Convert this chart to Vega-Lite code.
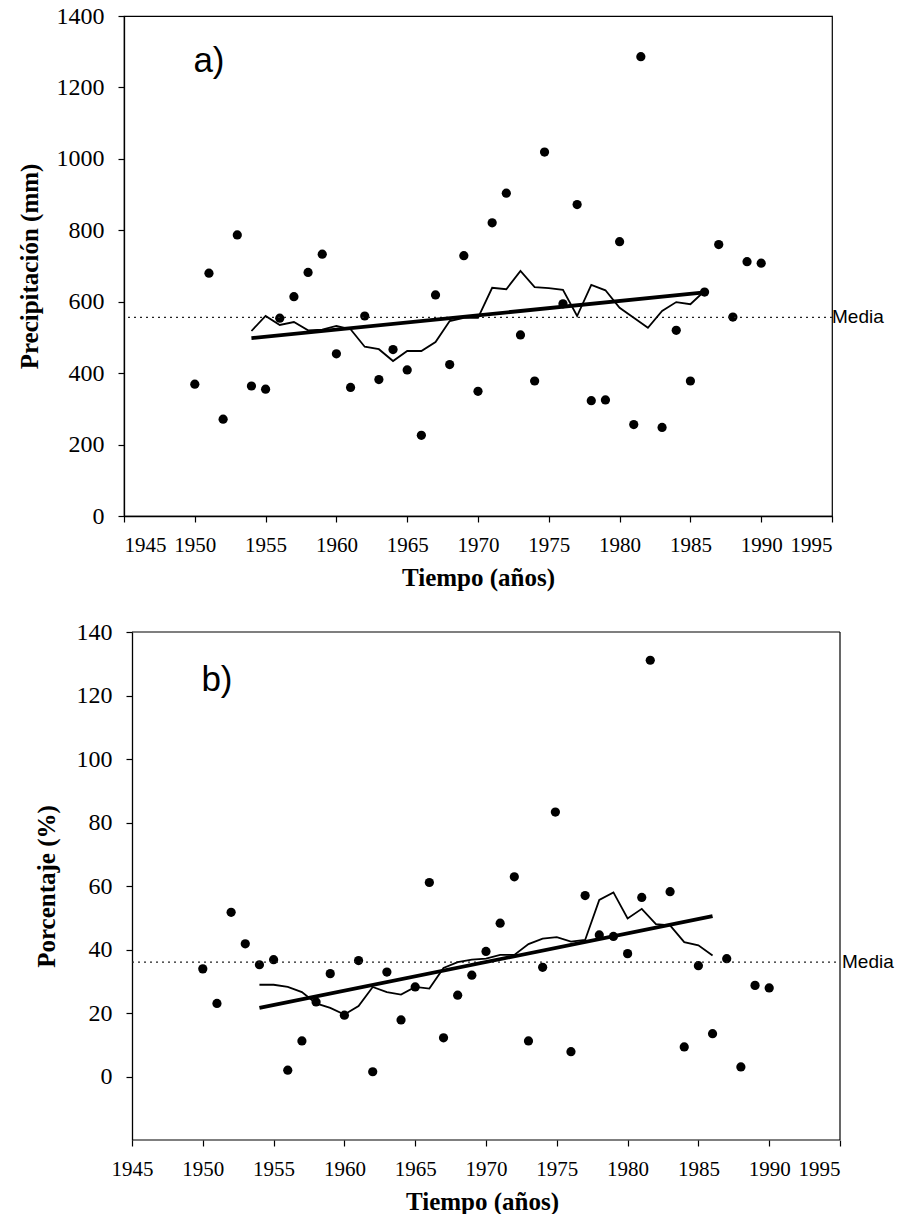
{
  "$schema": "https://vega.github.io/schema/vega-lite/v6.json",
  "background": "white",
  "padding": {"left": 16, "top": 3, "right": 5, "bottom": 0},
  "spacing": 29,
  "config": {
    "view": {"stroke": "black", "strokeWidth": 1.2},
    "axis": {
      "grid": false,
      "domainColor": "black",
      "domainWidth": 1.3,
      "tickColor": "black",
      "tickWidth": 1.2,
      "tickSize": 6,
      "labelColor": "black",
      "titleColor": "black",
      "labelFont": "Liberation Serif",
      "titleFont": "Liberation Serif",
      "titleFontWeight": "bold",
      "titleFontSize": 25
    },
    "axisX": {"labelFont": "Liberation Serif", "labelFontSize": 21, "labelPadding": 12, "titlePadding": 10},
    "axisY": {"labelFont": "Liberation Serif", "labelFontSize": 24, "labelPadding": 14}
  },
  "datasets": {
    "precip": [
      {"year": 1950, "value": 369}, {"year": 1951, "value": 680}, {"year": 1952, "value": 271},
      {"year": 1953, "value": 787}, {"year": 1954, "value": 364}, {"year": 1955, "value": 355},
      {"year": 1956, "value": 554}, {"year": 1957, "value": 614}, {"year": 1958, "value": 682},
      {"year": 1959, "value": 733}, {"year": 1960, "value": 454}, {"year": 1961, "value": 360},
      {"year": 1962, "value": 560}, {"year": 1963, "value": 382}, {"year": 1964, "value": 466},
      {"year": 1965, "value": 409}, {"year": 1966, "value": 226}, {"year": 1967, "value": 619},
      {"year": 1968, "value": 424}, {"year": 1969, "value": 729}, {"year": 1970, "value": 349},
      {"year": 1971, "value": 821}, {"year": 1972, "value": 904}, {"year": 1973, "value": 507},
      {"year": 1974, "value": 378}, {"year": 1974.7, "value": 1019}, {"year": 1976, "value": 594},
      {"year": 1977, "value": 872}, {"year": 1978, "value": 323}, {"year": 1979, "value": 325},
      {"year": 1980, "value": 768}, {"year": 1981, "value": 256}, {"year": 1981.5, "value": 1286},
      {"year": 1983, "value": 248}, {"year": 1984, "value": 520}, {"year": 1985, "value": 378},
      {"year": 1986, "value": 627}, {"year": 1987, "value": 760}, {"year": 1988, "value": 557},
      {"year": 1989, "value": 712}, {"year": 1990, "value": 708}
    ],
    "precipMA": [
      {"year": 1954, "value": 518}, {"year": 1955, "value": 560}, {"year": 1956, "value": 535},
      {"year": 1957, "value": 543}, {"year": 1958, "value": 520}, {"year": 1959, "value": 522},
      {"year": 1960, "value": 532}, {"year": 1961, "value": 523}, {"year": 1962, "value": 474},
      {"year": 1963, "value": 467}, {"year": 1964, "value": 434}, {"year": 1965, "value": 462},
      {"year": 1966, "value": 462}, {"year": 1967, "value": 487}, {"year": 1968, "value": 546},
      {"year": 1969, "value": 555}, {"year": 1970, "value": 555}, {"year": 1971, "value": 639},
      {"year": 1972, "value": 635}, {"year": 1973, "value": 686}, {"year": 1974, "value": 641},
      {"year": 1975, "value": 638}, {"year": 1976, "value": 633}, {"year": 1977, "value": 560},
      {"year": 1978, "value": 647}, {"year": 1979, "value": 632}, {"year": 1980, "value": 583},
      {"year": 1981, "value": 555}, {"year": 1982, "value": 527}, {"year": 1983, "value": 574},
      {"year": 1984, "value": 599}, {"year": 1985, "value": 593}, {"year": 1986, "value": 630}
    ],
    "precipTrend": [
      {"year": 1954, "value": 498}, {"year": 1986, "value": 626}
    ],
    "precipMedia": [{"value": 556, "label": "Media"}],
    "tagA": [{"tag": "a)"}],
    "pct": [
      {"year": 1950, "value": 33.9}, {"year": 1951, "value": 23.0}, {"year": 1952, "value": 51.7},
      {"year": 1953, "value": 41.8}, {"year": 1954, "value": 35.2}, {"year": 1955, "value": 36.8},
      {"year": 1956, "value": 2.0}, {"year": 1957, "value": 11.2}, {"year": 1958, "value": 23.5},
      {"year": 1959, "value": 32.4}, {"year": 1960, "value": 19.3}, {"year": 1961, "value": 36.5},
      {"year": 1962, "value": 1.5}, {"year": 1963, "value": 32.9}, {"year": 1964, "value": 17.8},
      {"year": 1965, "value": 28.2}, {"year": 1966, "value": 61.1}, {"year": 1967, "value": 12.2},
      {"year": 1968, "value": 25.6}, {"year": 1969, "value": 31.9}, {"year": 1970, "value": 39.4},
      {"year": 1971, "value": 48.3}, {"year": 1972, "value": 62.9}, {"year": 1973, "value": 11.2},
      {"year": 1974, "value": 34.4}, {"year": 1974.9, "value": 83.3}, {"year": 1976, "value": 7.8},
      {"year": 1977, "value": 57.0}, {"year": 1978, "value": 44.6}, {"year": 1979, "value": 44.1},
      {"year": 1980, "value": 38.7}, {"year": 1981, "value": 56.4}, {"year": 1981.6, "value": 131.1},
      {"year": 1983, "value": 58.2}, {"year": 1984, "value": 9.3}, {"year": 1985, "value": 34.9},
      {"year": 1986, "value": 13.5}, {"year": 1987, "value": 37.1}, {"year": 1988, "value": 3.0},
      {"year": 1989, "value": 28.7}, {"year": 1990, "value": 27.9}
    ],
    "pctMA": [
      {"year": 1954, "value": 28.9}, {"year": 1955, "value": 28.9}, {"year": 1956, "value": 28.2},
      {"year": 1957, "value": 26.6}, {"year": 1958, "value": 23.0}, {"year": 1959, "value": 21.6},
      {"year": 1960, "value": 19.5}, {"year": 1961, "value": 22.2}, {"year": 1962, "value": 28.2},
      {"year": 1963, "value": 26.6}, {"year": 1964, "value": 25.8}, {"year": 1965, "value": 28.2},
      {"year": 1966, "value": 27.7}, {"year": 1967, "value": 34.2}, {"year": 1968, "value": 36.0},
      {"year": 1969, "value": 36.8}, {"year": 1970, "value": 37.1}, {"year": 1971, "value": 38.3},
      {"year": 1972, "value": 38.3}, {"year": 1973, "value": 41.7}, {"year": 1974, "value": 43.4},
      {"year": 1975, "value": 43.9}, {"year": 1976, "value": 42.5}, {"year": 1977, "value": 43.0},
      {"year": 1978, "value": 55.6}, {"year": 1979, "value": 58.0}, {"year": 1980, "value": 49.8},
      {"year": 1981, "value": 52.8}, {"year": 1982, "value": 48.0}, {"year": 1983, "value": 47.6},
      {"year": 1984, "value": 42.3}, {"year": 1985, "value": 41.3}, {"year": 1986, "value": 38.1}
    ],
    "pctTrend": [
      {"year": 1954, "value": 21.6}, {"year": 1986, "value": 50.5}
    ],
    "pctMedia": [{"value": 36, "label": "Media"}],
    "tagB": [{"tag": "b)"}],
    "frame": [{"part": "border"}]
  },
  "vconcat": [
    {
      "width": 708,
      "height": 500,
      "layer": [
        {
          "data": {"name": "precip"},
          "mark": {"type": "circle", "size": 85, "color": "black", "opacity": 1},
          "encoding": {
            "x": {
              "field": "year", "type": "quantitative", "title": "Tiempo (años)",
              "scale": {"domain": [1945, 1995], "nice": false, "zero": false},
              "axis": {"values": [1945, 1950, 1955, 1960, 1965, 1970, 1975, 1980, 1985, 1990, 1995], "format": "d", "labelFont": "Liberation Serif"}
            },
            "y": {
              "field": "value", "type": "quantitative", "title": "Precipitación (mm)",
              "scale": {"domain": [0, 1400], "nice": false},
              "axis": {"values": [0, 200, 400, 600, 800, 1000, 1200, 1400], "format": "d", "titlePadding": 14, "labelFont": "Liberation Serif"}
            }
          }
        },
        {
          "data": {"name": "precipMedia"},
          "mark": {"type": "rule", "strokeDash": [2, 4], "strokeWidth": 1.2, "color": "#222"},
          "encoding": {
            "y": {"field": "value", "type": "quantitative", "title": "Precipitación (mm)"}
          }
        },
        {
          "data": {"name": "precipMedia"},
          "mark": {"type": "text", "align": "left", "baseline": "middle", "font": "Liberation Sans", "fontSize": 19, "dx": 0, "color": "black"},
          "encoding": {
            "x": {"datum": 1995, "type": "quantitative"},
            "y": {"field": "value", "type": "quantitative", "title": "Precipitación (mm)"},
            "text": {"field": "label", "type": "nominal"}
          }
        },
        {
          "data": {"name": "precipMA"},
          "mark": {"type": "line", "color": "black", "strokeWidth": 1.8},
          "encoding": {
            "x": {"field": "year", "type": "quantitative", "title": "Tiempo (años)"},
            "y": {"field": "value", "type": "quantitative", "title": "Precipitación (mm)"}
          }
        },
        {
          "data": {"name": "precipTrend"},
          "mark": {"type": "line", "color": "black", "strokeWidth": 3.8},
          "encoding": {
            "x": {"field": "year", "type": "quantitative", "title": "Tiempo (años)"},
            "y": {"field": "value", "type": "quantitative", "title": "Precipitación (mm)"}
          }
        },
        {
          "data": {"name": "tagA"},
          "mark": {"type": "text", "align": "center", "baseline": "middle", "font": "Liberation Sans", "fontSize": 35, "color": "black"},
          "encoding": {
            "x": {"datum": 1951, "type": "quantitative"},
            "y": {"datum": 1274, "type": "quantitative"},
            "text": {"field": "tag", "type": "nominal"}
          }
        }
      ]
    },
    {
      "width": 716,
      "height": 508,
      "view": {"stroke": null},
      "layer": [
        {
          "data": {"name": "pct"},
          "mark": {"type": "circle", "size": 85, "color": "black", "opacity": 1},
          "encoding": {
            "x": {
              "field": "year", "type": "quantitative", "title": "Tiempo (años)",
              "scale": {"domain": [1944.435, 1995], "nice": false, "zero": false},
              "axis": {"values": [1945, 1950, 1955, 1960, 1965, 1970, 1975, 1980, 1985, 1990, 1995], "format": "d", "domain": false, "labelFont": "Liberation Serif"}
            },
            "y": {
              "field": "value", "type": "quantitative", "title": "Porcentaje (%)",
              "scale": {"domain": [-20, 140], "nice": false, "zero": false},
              "axis": {"values": [0, 20, 40, 60, 80, 100, 120, 140], "format": "d", "offset": -8, "titlePadding": 17, "labelFont": "Liberation Serif"}
            }
          }
        },
        {
          "data": {"name": "frame"},
          "mark": {"type": "rule", "color": "black", "strokeWidth": 1.2},
          "encoding": {
            "x": {"datum": 1945, "type": "quantitative"},
            "x2": {"datum": 1995},
            "y": {"datum": -20, "type": "quantitative"}
          }
        },
        {
          "data": {"name": "frame"},
          "mark": {"type": "rule", "color": "black", "strokeWidth": 1.2},
          "encoding": {
            "x": {"datum": 1945, "type": "quantitative"},
            "x2": {"datum": 1995},
            "y": {"datum": 140, "type": "quantitative"}
          }
        },
        {
          "data": {"name": "frame"},
          "mark": {"type": "rule", "color": "black", "strokeWidth": 1.2},
          "encoding": {
            "x": {"datum": 1995, "type": "quantitative"},
            "y": {"datum": -20, "type": "quantitative"},
            "y2": {"datum": 140}
          }
        },
        {
          "data": {"name": "pctMedia"},
          "mark": {"type": "rule", "strokeDash": [2, 4], "strokeWidth": 1.2, "color": "#222"},
          "encoding": {
            "x": {"datum": 1945, "type": "quantitative"},
            "x2": {"datum": 1995},
            "y": {"field": "value", "type": "quantitative", "title": "Porcentaje (%)"}
          }
        },
        {
          "data": {"name": "pctMedia"},
          "mark": {"type": "text", "align": "left", "baseline": "middle", "font": "Liberation Sans", "fontSize": 19, "dx": 2, "color": "black"},
          "encoding": {
            "x": {"datum": 1995, "type": "quantitative"},
            "y": {"field": "value", "type": "quantitative", "title": "Porcentaje (%)"},
            "text": {"field": "label", "type": "nominal"}
          }
        },
        {
          "data": {"name": "pctMA"},
          "mark": {"type": "line", "color": "black", "strokeWidth": 1.8},
          "encoding": {
            "x": {"field": "year", "type": "quantitative", "title": "Tiempo (años)"},
            "y": {"field": "value", "type": "quantitative", "title": "Porcentaje (%)"}
          }
        },
        {
          "data": {"name": "pctTrend"},
          "mark": {"type": "line", "color": "black", "strokeWidth": 3.8},
          "encoding": {
            "x": {"field": "year", "type": "quantitative", "title": "Tiempo (años)"},
            "y": {"field": "value", "type": "quantitative", "title": "Porcentaje (%)"}
          }
        },
        {
          "data": {"name": "tagB"},
          "mark": {"type": "text", "align": "center", "baseline": "middle", "font": "Liberation Sans", "fontSize": 35, "color": "black"},
          "encoding": {
            "x": {"datum": 1951, "type": "quantitative"},
            "y": {"datum": 125, "type": "quantitative"},
            "text": {"field": "tag", "type": "nominal"}
          }
        }
      ]
    }
  ]
}
